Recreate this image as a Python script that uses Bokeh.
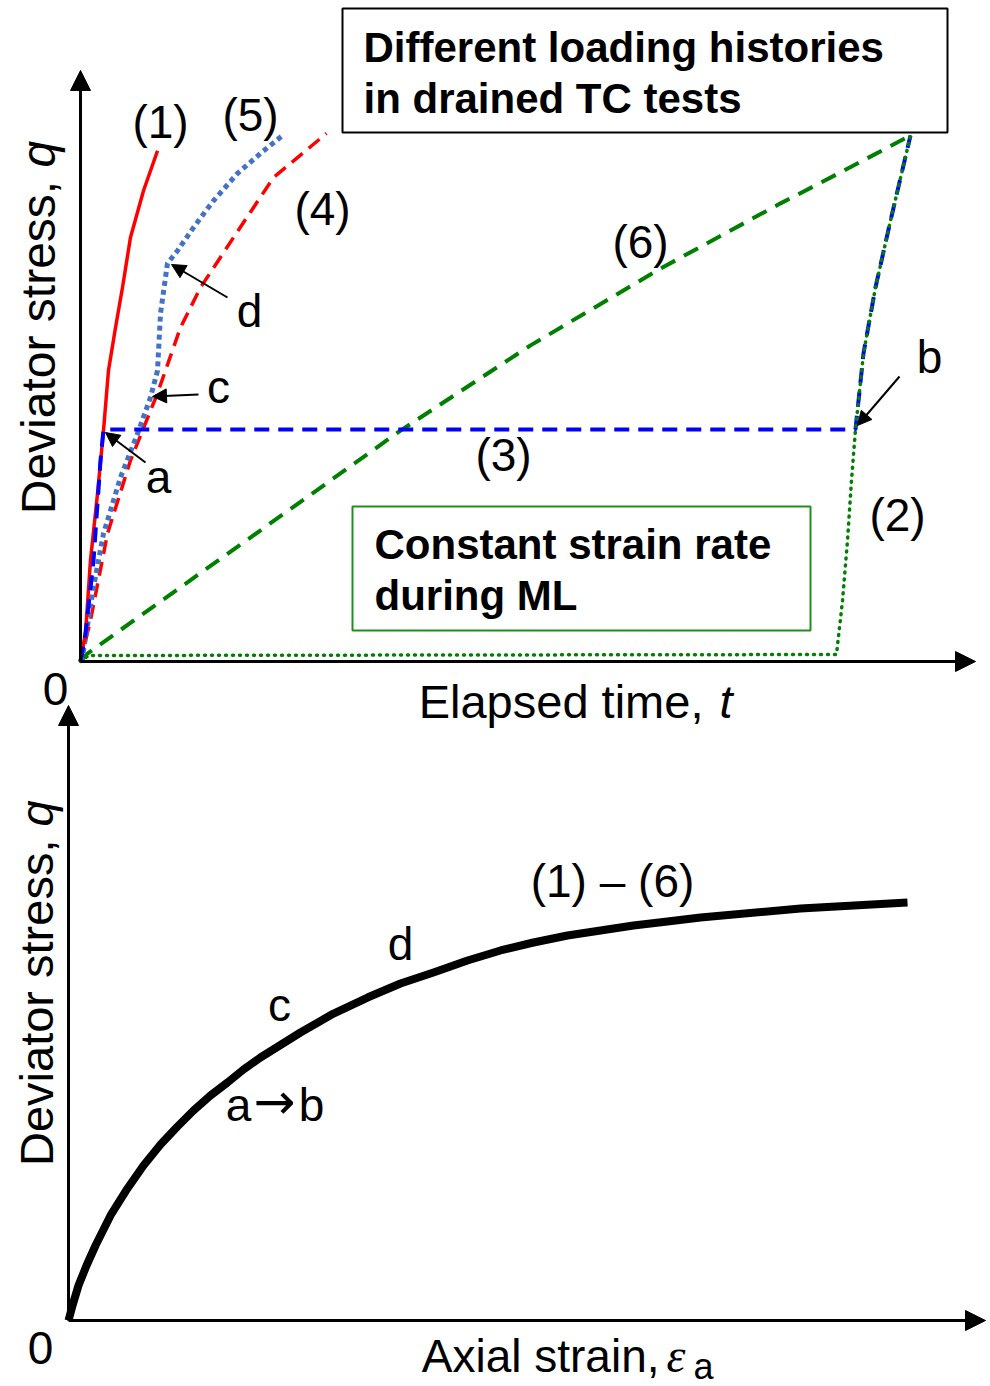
import math
from bokeh.plotting import figure
from bokeh.models import Range1d, Label, Arrow, NormalHead, BoxAnnotation
from bokeh.embed import file_html
from bokeh.resources import INLINE

# ---------------- data (schematic, arbitrary units 0-100) ----------------
# Upper panel: elapsed time t vs deviator stress q for six loading histories
t_1 = [0, 0.60, 1.20, 2.05, 2.77, 3.37, 4.22, 5.06, 6.02, 7.59, 9.28]
q_1 = [0, 5.32, 19.2, 31.9, 43.9, 55.3, 63.5, 71.1, 80.6, 89.5, 97.1]

t_2 = [0, 0.96, 91.08, 91.81, 92.41, 92.89, 93.37, 94.34, 95.78, 97.59, 100]
q_2 = [0, 1.14, 1.33, 11.6, 23.0, 34.4, 44.1, 58.6, 71.1, 83.8, 100]

t_3 = [0, 0.60, 1.57, 2.41, 2.77, 93.37, 94.34, 95.78, 97.59, 100]
q_3 = [0, 5.32, 19.2, 38.2, 44.1, 44.1, 58.6, 71.1, 83.8, 100]

t_4 = [0, 1.20, 3.25, 6.02, 9.28, 12.05, 14.46, 18.43, 23.25, 29.64]
q_4 = [0, 7.79, 24.3, 38.2, 51.0, 63.5, 71.1, 80.6, 92.0, 100.4]

t_5 = [0, 0.36, 1.57, 2.77, 4.82, 6.87, 8.43, 9.28, 9.64, 10.48, 11.69,
       13.61, 16.02, 18.92, 21.69, 24.34]
q_5 = [0, 2.09, 14.1, 24.3, 35.0, 43.3, 50.2, 55.3, 66.2, 75.7, 78.1,
       82.5, 87.6, 92.8, 96.6, 100]

t_6 = [0, 0.84, 27.71, 38.55, 54.22, 69.88, 84.34, 89.16, 100]
q_6 = [0, 1.52, 31.7, 43.9, 60.1, 74.7, 87.1, 91.0, 100]

# Lower panel: axial strain vs deviator stress (single curve for (1)-(6))
e_a = [0, 0.48, 1.19, 2.15, 3.22, 5.01, 7.03, 8.94, 10.97, 12.99, 14.90,
       16.92, 18.95, 20.86, 22.88, 27.65, 31.59, 35.64, 39.57, 43.50, 47.56,
       51.49, 55.42, 59.48, 63.41, 67.34, 71.39, 75.33, 87.25, 100]
q_e = [0, 3.59, 8.37, 13.16, 17.94, 25.12, 31.58, 37.08, 42.11, 46.41, 50.24,
       53.83, 56.94, 60.05, 62.92, 68.90, 73.44, 77.27, 80.62, 83.25, 86.12,
       88.52, 90.43, 92.11, 93.30, 94.50, 95.45, 96.41, 98.56, 100]

top_curve_labels = ["(1)", "(5)", "(4)", "(6)", "(3)", "(2)"]
point_labels = ["a", "c", "d", "b"]
bottom_labels = ["(1) \u2013 (6)", "d", "c"]

# ---------------- layout helpers (pixel placement -> data units) ----------------
W, H = 990, 1386
TX0, TY0, TSX, TSY = 80, 661, 8.3, 5.26
BX0, BY0, BSX, BSY = 68, 1320, 8.39, 4.18


def tx(px):
    return (px - TX0) / TSX


def ty(py):
    return (TY0 - py) / TSY


def bx(px):
    return (px - BX0) / BSX


def by(py):
    return (BY0 - py) / BSY


p = figure(width=W, height=H, output_backend="svg", toolbar_location=None,
           x_range=Range1d(tx(0), tx(W)), y_range=Range1d(ty(H), ty(0)),
           x_axis_location=None, y_axis_location=None, min_border=0)
p.extra_x_ranges = {"ea": Range1d(bx(0), bx(W))}
p.extra_y_ranges = {"qb": Range1d(by(H), by(0))}
p.outline_line_color = None
p.grid.visible = False
p.background_fill_color = "white"
p.border_fill_color = "white"

FONT = "Liberation Sans"
MID = 0.355  # distance from alphabetic baseline to em-box middle, in em


def lab(px, py, text, size=46, style="normal", align="center", rot=False,
        panel="top", font=FONT):
    """px, py: pixel position of the text's alphabetic baseline anchor."""
    if rot:
        px = px - MID * size
    else:
        py = py - MID * size
    if panel == "top":
        x, y, xr, yr = tx(px), ty(py), "default", "default"
    else:
        x, y, xr, yr = bx(px), by(py), "ea", "qb"
    p.add_layout(Label(x=x, y=y, text=text, text_font=font,
                       text_font_size=f"{size}px", text_font_style=style,
                       text_align=align, text_baseline="middle",
                       angle=(math.pi / 2 if rot else 0.0),
                       text_color="black", x_range_name=xr, y_range_name=yr))


def arrow(x0, y0, x1, y1, size, lw, xr="default", yr="default"):
    p.add_layout(Arrow(x_start=x0, y_start=y0, x_end=x1, y_end=y1,
                       line_width=lw, line_color="black",
                       end=NormalHead(size=size, fill_color="black",
                                      line_color="black", line_width=1),
                       x_range_name=xr, y_range_name=yr))


# ---------------- boxes ----------------
p.add_layout(BoxAnnotation(left=tx(342), right=tx(947), top=ty(8), bottom=ty(132),
                           fill_color="white", fill_alpha=1.0,
                           line_color="black", line_width=2, line_alpha=1.0))
p.add_layout(BoxAnnotation(left=tx(352), right=tx(810), top=ty(506), bottom=ty(630),
                           fill_alpha=0.0, line_color="#1F8F1F", line_width=2,
                           line_alpha=1.0))

# ---------------- upper panel curves ----------------
p.line(t_6, q_6, line_color="#008000", line_width=4, line_dash="16 10")
p.line(t_4, q_4, line_color="#FF0000", line_width=3.5, line_dash="14 8")
p.line(t_5, q_5, line_color="#4472C4", line_width=5, line_dash="5 4")
p.line(t_1, q_1, line_color="#FF0000", line_width=3.5, line_join="round")
p.line(t_3, q_3, line_color="#0000FF", line_width=4, line_dash="15 9")
p.line(t_2, q_2, line_color="#008000", line_width=3.5, line_dash="1 6", line_cap="round")

# ---------------- lower panel curve ----------------
p.line(e_a, q_e, line_color="black", line_width=8, line_join="round",
       x_range_name="ea", y_range_name="qb")

# ---------------- axes (arrows) ----------------
arrow(0, 0, 0, ty(70), 20, 3)
arrow(0, 0, tx(975), 0, 20, 3)
arrow(0, 0, 0, by(705), 20, 3, "ea", "qb")
arrow(0, 0, bx(985), 0, 20, 3, "ea", "qb")

# ---------------- annotation arrows a, c, d, b ----------------
arrow(tx(145), ty(462), tx(105), ty(432), 14, 2)
arrow(tx(198), ty(394), tx(152), ty(396), 14, 2)
arrow(tx(227), ty(297), tx(171), ty(264), 14, 2)
arrow(tx(899), ty(376), tx(857), ty(425), 14, 2)

# ---------------- texts, upper panel ----------------
lab(363, 62, "Different loading histories", size=42, style="bold", align="left")
lab(363, 113, "in drained TC tests", size=42, style="bold", align="left")
lab(374, 559, "Constant strain rate", size=42, style="bold", align="left")
lab(374, 610, "during ML", size=42, style="bold", align="left")

top_label_px = [(160, 138), (250, 131), (322, 225), (640, 258), (503, 471), (897, 531)]
for txt, (xx, yy) in zip(top_curve_labels, top_label_px):
    lab(xx, yy, txt)

point_label_px = [(158, 493), (218, 403), (249, 327), (929, 373)]
for txt, (xx, yy) in zip(point_labels, point_label_px):
    lab(xx, yy, txt)

lab(55, 705, "0")
lab(716, 718, "Elapsed time, ", size=47, align="right")
lab(719, 718, "t", size=47, style="italic", align="left")
lab(55, 167, "Deviator stress, ", size=48, align="right", rot=True)
lab(55, 167, "q", size=48, style="italic", align="left", rot=True)

# ---------------- texts, lower panel ----------------
bottom_label_px = [(612, 897), (400, 960), (279, 1021)]
for txt, (xx, yy) in zip(bottom_labels, bottom_label_px):
    lab(xx, yy, txt, panel="bot")
lab(238, 1121, "a", panel="bot")
lab(274, 1119, "\u2192", size=50, panel="bot", font="DejaVu Sans")
lab(311, 1121, "b", panel="bot")

lab(40, 1364, "0", panel="bot")
lab(659, 1372, "Axial strain,", align="right", panel="bot")
lab(666, 1372, "\u03b5", size=48, style="italic", align="left", panel="bot",
    font="Liberation Serif")
lab(693, 1379, "a", size=36, align="left", panel="bot")
lab(53, 826, "Deviator stress, ", size=47, align="right", rot=True, panel="bot")
lab(53, 826, "q", size=47, style="italic", align="left", rot=True, panel="bot")

open("out.html", "w").write(file_html(p, INLINE))
